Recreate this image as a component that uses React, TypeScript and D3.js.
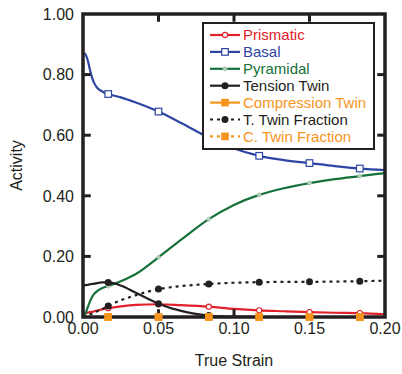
import React from "react";
import * as d3 from "d3";

const strain = [0, 0.0015, 0.003, 0.0045, 0.006, 0.0075, 0.0095, 0.0125, 0.0167, 0.025, 0.035, 0.05, 0.065, 0.0833, 0.1, 0.1167, 0.133, 0.15, 0.1667, 0.1833, 0.2];
const markerIdx = [8, 11, 13, 15, 17, 19];

const prismatic = [0.01, 0.012, 0.014, 0.016, 0.017, 0.019, 0.021, 0.025, 0.029, 0.035, 0.04, 0.042, 0.039, 0.034, 0.027, 0.022, 0.019, 0.016, 0.014, 0.013, 0.009];
const basal = [0.874, 0.868, 0.85, 0.818, 0.79, 0.771, 0.756, 0.745, 0.736, 0.725, 0.708, 0.678, 0.64, 0.592, 0.556, 0.532, 0.518, 0.508, 0.498, 0.49, 0.485];
const pyramidal = [0.003, 0.01, 0.03, 0.05, 0.066, 0.077, 0.086, 0.095, 0.102, 0.118, 0.142, 0.197, 0.255, 0.323, 0.37, 0.403, 0.425, 0.442, 0.455, 0.465, 0.475];
const tensionTwin = [0.104, 0.105, 0.106, 0.108, 0.109, 0.11, 0.112, 0.114, 0.114, 0.104, 0.08, 0.044, 0.02, 0.005, 0.001, 0, 0, 0, 0, 0, 0];
const compressionTwin = strain.map(() => 0);
const tTwinFraction = [0, 0.002, 0.005, 0.008, 0.011, 0.014, 0.019, 0.026, 0.036, 0.055, 0.072, 0.092, 0.102, 0.109, 0.113, 0.115, 0.116, 0.116, 0.117, 0.118, 0.12];
const cTwinFraction = strain.map(() => 0);

const xTicks = [0, 0.05, 0.1, 0.15, 0.2];
const yTicks = [0, 0.2, 0.4, 0.6, 0.8, 1.0];

type Series = {
  name: string;
  values: number[];
  color: string;
  textColor: string;
  dash?: string;
  marker: "circleOpen" | "squareOpen" | "diamond" | "dot" | "squareFill";
};

const series: Series[] = [
  { name: "Prismatic", values: prismatic, color: "#e0202a", textColor: "#e0202a", marker: "circleOpen" },
  { name: "Basal", values: basal, color: "#2e44a3", textColor: "#2e44a3", marker: "squareOpen" },
  { name: "Pyramidal", values: pyramidal, color: "#16703a", textColor: "#16703a", marker: "diamond" },
  { name: "Tension Twin", values: tensionTwin, color: "#231f20", textColor: "#231f20", marker: "dot" },
  { name: "Compression Twin", values: compressionTwin, color: "#f7941d", textColor: "#f7941d", marker: "squareFill" },
  { name: "T. Twin Fraction", values: tTwinFraction, color: "#231f20", textColor: "#231f20", dash: "3,4", marker: "dot" },
  { name: "C. Twin Fraction", values: cTwinFraction, color: "#f7941d", textColor: "#f7941d", dash: "3,4", marker: "squareFill" },
];

const W = 402, H = 374;
const L = 83, R = 385, T = 14, B = 317;
const FONT = "'Liberation Sans', Arial, Helvetica, sans-serif";
const INK = "#231f20";

function Marker({ kind, x, y, color }: { kind: Series["marker"]; x: number; y: number; color: string }) {
  switch (kind) {
    case "circleOpen":
      return <circle cx={x} cy={y} r={2.6} fill="white" stroke={color} strokeWidth={1.1} />;
    case "squareOpen":
      return <rect x={x - 3.3} y={y - 3.3} width={6.6} height={6.6} fill="white" stroke={color} strokeWidth={1.2} />;
    case "diamond":
      return <path d={`M${x},${y - 2.5}L${x + 2.5},${y}L${x},${y + 2.5}L${x - 2.5},${y}Z`} fill="#b3cfb9" stroke="#9cc0a5" strokeWidth={0.6} />;
    case "dot":
      return <circle cx={x} cy={y} r={3.5} fill={color} />;
    case "squareFill":
      return <rect x={x - 3.8} y={y - 3.8} width={7.6} height={7.6} fill={color} />;
  }
}

export default function App() {
  const x = d3.scaleLinear().domain([0, 0.2]).range([L, R]);
  const y = d3.scaleLinear().domain([0, 1]).range([B, T]);
  const line = (vals: number[]) =>
    d3.line<number>().x((_, i) => x(strain[i])).y((v) => y(v)).curve(d3.curveMonotoneX)(vals) || "";
  const fmt = d3.format(".2f");
  const tickLen = 6;
  const legX = 203, legY = 23, legW = 171, legH = 126;

  return (
    <svg width={W} height={H} style={{ position: "absolute", left: 0, top: 0, background: "white" }} fontFamily={FONT}>
      {series.map((s) => (
        <path key={s.name} d={line(s.values)} fill="none" stroke={s.color} strokeWidth={2.2} strokeDasharray={s.dash} />
      ))}
      <rect x={L} y={T} width={R - L} height={B - T} fill="none" stroke={INK} strokeWidth={3.5} />
      {xTicks.slice(1, -1).map((t) => (
        <g key={"xt" + t}>
          <line x1={x(t)} x2={x(t)} y1={B} y2={B - tickLen - 1.75} stroke={INK} strokeWidth={3} />
          <line x1={x(t)} x2={x(t)} y1={T} y2={T + tickLen + 1.75} stroke={INK} strokeWidth={3} />
        </g>
      ))}
      {yTicks.slice(1, -1).map((t) => (
        <g key={"yt" + t}>
          <line x1={L} x2={L + tickLen + 1.75} y1={y(t)} y2={y(t)} stroke={INK} strokeWidth={3} />
          <line x1={R} x2={R - tickLen - 1.75} y1={y(t)} y2={y(t)} stroke={INK} strokeWidth={3} />
        </g>
      ))}
      {series.map((s) =>
        markerIdx.map((i) => (
          <Marker key={s.name + i} kind={s.marker} x={x(strain[i])} y={y(s.values[i])} color={s.color} />
        ))
      )}
      {xTicks.map((t) => (
        <text key={"xl" + t} x={x(t)} y={334} textAnchor="middle" fontSize={16} fill={INK}>
          {fmt(t)}
        </text>
      ))}
      {yTicks.map((t) => (
        <text key={"yl" + t} x={74} y={y(t)} dy="0.36em" textAnchor="end" fontSize={16} fill={INK}>
          {fmt(t)}
        </text>
      ))}
      <text x={(L + R) / 2} y={366} textAnchor="middle" fontSize={16} fill={INK}>True Strain</text>
      <text transform={`translate(22,${(T + B) / 2}) rotate(-90)`} textAnchor="middle" fontSize={16} fill={INK}>Activity</text>
      <rect x={legX} y={legY} width={legW} height={legH} fill="white" stroke={INK} strokeWidth={2} />
      {series.map((s, i) => {
        const ly = 35 + i * 16.9;
        return (
          <g key={"lg" + s.name}>
            <line x1={210} x2={240} y1={ly} y2={ly} stroke={s.color} strokeWidth={2.2} strokeDasharray={s.dash} />
            <Marker kind={s.marker} x={225} y={ly} color={s.color} />
            <text x={243} y={ly} dy="0.36em" fontSize={15} fill={s.textColor}>{s.name}</text>
          </g>
        );
      })}
    </svg>
  );
}
